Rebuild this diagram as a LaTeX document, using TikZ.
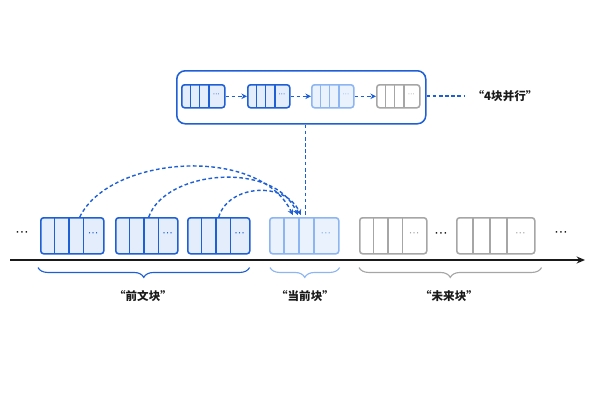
\documentclass[tikz,border=0pt]{standalone}
\usepackage{fontspec}
\usepackage{tikz}
\usetikzlibrary{decorations.pathreplacing,arrows.meta,calc}
\newfontfamily\cjk{Noto Sans CJK SC}
\newfontfamily\dotfont{DejaVu Sans}
\definecolor{deep_blue}{HTML}{1F5FD6}
\definecolor{deep_blue_sk}{HTML}{E4EDFB}
\definecolor{pale_blue}{HTML}{8CB5F2}
\definecolor{pale_blue_sk}{HTML}{EAF2FD}
\definecolor{mid_grey}{HTML}{A6A6A6}
\definecolor{ink}{HTML}{1A1A1A}

\newcommand{\chunk}[9]{%
  \node[draw=#7,fill=#8,line width=1.1,rounded corners=2,inner sep=0,
        anchor=north west,minimum width={(#3-#2)*0.25mm},
        minimum height={(#5-#4)*0.25mm}] (#1) at (#2,#4) {};
  \foreach \k in {1,2,3}
    \draw[#7,line width=1.1] (#2+\k*#6,#4) -- (#2+\k*#6,#5);
  \node[#7,inner sep=0] at ({(#2+3*#6+#3)/2},{(#4+#5)/2})
       {\dotfont\fontsize{#9}{#9}\selectfont ⋯};
}

\begin{document}
\begin{tikzpicture}[x=0.25mm,y=-0.25mm,
    dashline/.style={deep_blue,line width=1,dash pattern=on 2.6pt off 1.8pt},
    tag/.style={ink,font=\cjk\bfseries\fontsize{8.2}{10}\selectfont,inner sep=1},
    gap/.style={ink,inner sep=0,font=\dotfont\fontsize{9.5}{9.5}\selectfont},
    bracket/.style={decorate,decoration={brace,mirror,amplitude=7pt},line width=0.8}]

    \useasboundingbox (0,0) rectangle (600,400);

    \node[draw=deep_blue,line width=1.1,rounded corners=6,inner sep=0,
          anchor=north west,minimum width=249*0.25mm,minimum height=53*0.25mm]
          (par) at (176,70) {};

    \chunk{t1}{181}{224}{84}{107}{9.3}{deep_blue}{deep_blue_sk}{5}
    \chunk{t2}{247}{289}{84}{107}{9.3}{deep_blue}{deep_blue_sk}{5}
    \chunk{t3}{311}{353}{84}{107}{9.3}{pale_blue}{pale_blue_sk}{5}
    \chunk{t4}{376}{419}{84}{107}{9.3}{mid_grey}{white}{5}

    \draw[dashline,-{Stealth[length=4pt,width=4pt]}] (t1) -- (t2);
    \draw[dashline,-{Stealth[length=4pt,width=4pt]}] (t2) -- (t3);
    \draw[dashline,-{Stealth[length=4pt,width=4pt]}] (t3) -- (t4);

    \node[tag,anchor=west] (lfour) at (471,96) {“4块并行”};
    \draw[dashline,shorten >=4] (par.east |- lfour) -- (lfour.west);

    \chunk{p1}{40}{103}{217}{253}{14.5}{deep_blue}{deep_blue_sk}{7.5}
    \chunk{p2}{115}{177}{217}{253}{14.5}{deep_blue}{deep_blue_sk}{7.5}
    \chunk{p3}{187}{249}{217}{253}{14.5}{deep_blue}{deep_blue_sk}{7.5}
    \chunk{cur}{269}{338}{217}{253}{15}{pale_blue}{pale_blue_sk}{7.5}
    \chunk{f1}{359}{426}{217}{253}{14.5}{mid_grey}{white}{7.5}
    \chunk{f2}{456}{534}{217}{253}{17}{mid_grey}{white}{7.5}

    \node[gap] (d0) at (22,234) {⋯};
    \node[gap] (d1) at (441,235) {⋯};
    \node[gap] (d2) at (561,234) {⋯};

    \draw[dashline] ($(par.south -| cur.north)+(1.5,0)$) -- ($(cur.north)+(1.5,0)$);

    \draw[dashline,-{Stealth[length=4pt,width=4pt]}] ($(p1.north)+(7.5,0)$)
        .. controls (110,155) and (260,145) .. ($(cur.north)+(-11.5,-2)$);
    \draw[dashline,-{Stealth[length=4pt,width=4pt]}] ($(p2.north)+(2,0)$)
        .. controls (165,170) and (275,160) .. ($(cur.north)+(-6.5,-2)$);
    \draw[dashline,-{Stealth[length=4pt,width=4pt]}] (p3.north)
        .. controls (228,185) and (285,180) .. ($(cur.north)+(-3.5,-2)$);

    \coordinate (ax0) at (10,260);
    \coordinate (ax1) at (585,260);
    \draw[ink,line width=1.1,-{Stealth[length=6pt,width=5pt]}] (ax0) -- (ax1);

    \draw[bracket,deep_blue] ($(p1.south west)+(-2,13)$) -- ($(p3.south east)+(-1,13)$);
    \draw[bracket,pale_blue] ($(cur.south west)+(1,13)$) -- ($(cur.south east)+(0,13)$);
    \draw[bracket,mid_grey] ($(f1.south west)+(0,13)$) -- ($(f2.south east)+(6,13)$);

    \node[tag] (lpast) at (143,296) {“前文块”};
    \node[tag] (lcur) at (305,296) {“当前块”};
    \node[tag] (lfut) at (449,296) {“未来块”};

\end{tikzpicture}
\end{document}
